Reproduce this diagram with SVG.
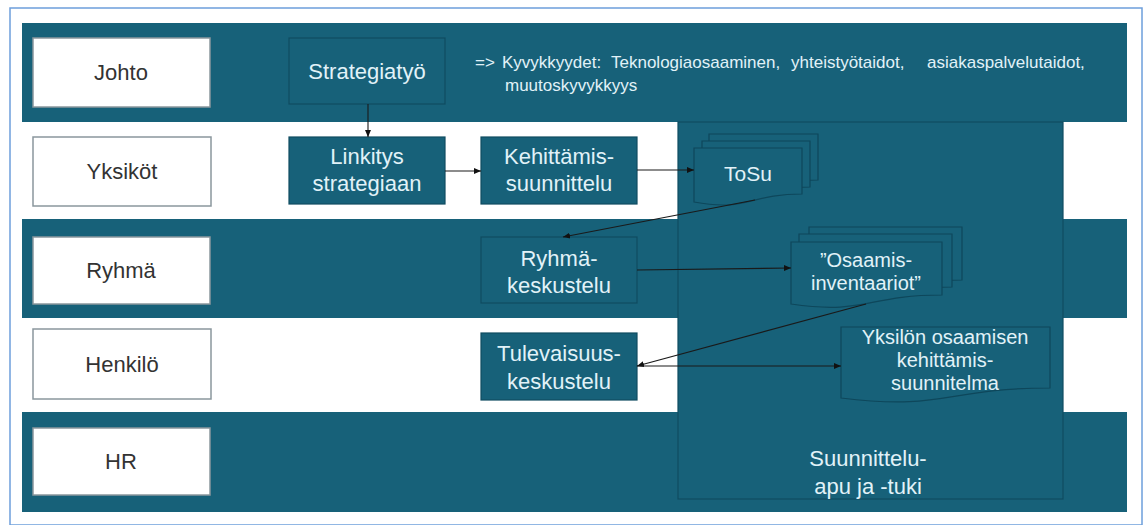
<svg xmlns="http://www.w3.org/2000/svg" width="1144" height="525" viewBox="0 0 1144 525">
  <defs>
    <marker id="arrow" markerUnits="userSpaceOnUse" markerWidth="8" markerHeight="8" refX="7" refY="4" orient="auto">
      <path d="M0,1 L7,4 L0,7 Z" fill="#111"/>
    </marker>
    <style>
      .band { fill: #176179; }
      .label { fill: #ffffff; stroke: #8a979d; stroke-width: 1.5; }
      .labeltxt { font-family: "Liberation Sans", Arial, sans-serif; font-size: 22px; fill: #333333; text-anchor: middle; }
      .box { fill: #176179; stroke: #0f4c61; stroke-width: 1.2; }
      .boxtxt { font-family: "Liberation Sans", Arial, sans-serif; font-size: 22px; fill: #e1f2f8; text-anchor: middle; }
      .doctxt { font-family: "Liberation Sans", Arial, sans-serif; font-size: 20px; fill: #e1f2f8; text-anchor: middle; }
      .doc { fill: #176179; stroke: #0e475b; stroke-width: 1.2; }
      .note { font-family: "Liberation Sans", Arial, sans-serif; font-size: 17px; fill: #e1f2f8; }
      .conn { fill: none; stroke: #1a1a1a; stroke-width: 1.1; marker-end: url(#arrow); }
    </style>
  </defs>

  <!-- frame -->
  <rect x="0" y="0" width="1144" height="525" fill="#ffffff"/>
  <rect x="10" y="8" width="1132" height="517" fill="#ffffff" stroke="#6d9fdb" stroke-width="1.5"/>

  <!-- swimlane bands -->
  <g id="bands">
    <rect class="band" x="22" y="23" width="1105" height="99"/>
    <rect class="band" x="22" y="219" width="1105" height="99"/>
    <rect class="band" x="22" y="412" width="1105" height="100"/>
  </g>

  <!-- planning support panel -->
  <g id="panel">
    <rect x="678" y="122" width="385" height="377" fill="#176179" stroke="#0f4c61" stroke-width="1.2"/>
    <text class="boxtxt" x="868" y="466">Suunnittelu-</text>
    <text class="boxtxt" x="868" y="494">apu ja -tuki</text>
  </g>

  <!-- lane labels -->
  <g id="lane-johto">
    <rect class="label" x="33" y="38" width="177" height="69"/>
    <text class="labeltxt" x="121" y="80">Johto</text>
  </g>
  <g id="lane-yksikot">
    <rect class="label" x="33" y="137" width="178" height="69"/>
    <text class="labeltxt" x="122" y="179">Yksiköt</text>
  </g>
  <g id="lane-ryhma">
    <rect class="label" x="33" y="237" width="177" height="67"/>
    <text class="labeltxt" x="121" y="278">Ryhmä</text>
  </g>
  <g id="lane-henkilo">
    <rect class="label" x="33" y="329" width="178" height="70"/>
    <text class="labeltxt" x="122" y="372">Henkilö</text>
  </g>
  <g id="lane-hr">
    <rect class="label" x="33" y="428" width="177" height="67"/>
    <text class="labeltxt" x="121" y="469">HR</text>
  </g>

  <!-- process steps -->
  <g id="strategiatyo">
    <rect class="box" x="289" y="38" width="156" height="66" fill="none"/>
    <text class="boxtxt" x="367" y="79">Strategiatyö</text>
  </g>
  <g id="kyvykkyydet">
    <text class="note" y="68"><tspan x="475">=&gt;</tspan><tspan x="502">Kyvykkyydet:</tspan><tspan x="611">Teknologiaosaaminen,</tspan><tspan x="791">yhteistyötaidot,</tspan><tspan x="927">asiakaspalvelutaidot,</tspan></text>
    <text class="note" x="505" y="91">muutoskyvykkyys</text>
  </g>
  <g id="linkitys">
    <rect class="box" x="289" y="137" width="156" height="67"/>
    <text class="boxtxt" x="367" y="164">Linkitys</text>
    <text class="boxtxt" x="367" y="191">strategiaan</text>
  </g>
  <g id="kehittamissuunnittelu">
    <rect class="box" x="481" y="137" width="156" height="67"/>
    <text class="boxtxt" x="559" y="164">Kehittämis-</text>
    <text class="boxtxt" x="559" y="191">suunnittelu</text>
  </g>
  <g id="ryhmakeskustelu">
    <rect class="box" x="481" y="237" width="156" height="66"/>
    <text class="boxtxt" x="559" y="266">Ryhmä-</text>
    <text class="boxtxt" x="559" y="293">keskustelu</text>
  </g>
  <g id="tulevaisuuskeskustelu">
    <rect class="box" x="481" y="333" width="156" height="67"/>
    <text class="boxtxt" x="559" y="361">Tulevaisuus-</text>
    <text class="boxtxt" x="559" y="389">keskustelu</text>
  </g>

  <!-- documents -->
  <g id="tosu">
    <path class="doc" d="M709,134 H818 V180 C763,180 763,198 709,188 Z"/>
    <path class="doc" d="M702,141 H810 V187 C756,187 756,205 702,195 Z"/>
    <path class="doc" d="M694,148 H802 V194 C748,194 748,212 694,202 Z"/>
    <text class="doctxt" x="748" y="181" style="font-size:21px">ToSu</text>
  </g>
  <g id="osaamisinventaariot">
    <path class="doc" d="M809,227 H962 V280 C885,280 885,300 809,289 Z"/>
    <path class="doc" d="M799,234 H952 V287 C875,287 875,307 799,296 Z"/>
    <path class="doc" d="M791,242 H942 V295 C866,295 866,315 791,304 Z"/>
    <text class="doctxt" x="866" y="267">”Osaamis-</text>
    <text class="doctxt" x="866" y="290">inventaariot”</text>
  </g>
  <g id="kehittamissuunnitelma">
    <path class="doc" d="M841,327 H1050 V388 C945,388 945,411 841,398 Z"/>
    <text class="doctxt" x="945" y="344">Yksilön osaamisen</text>
    <text class="doctxt" x="945" y="367">kehittämis-</text>
    <text class="doctxt" x="945" y="390">suunnitelma</text>
  </g>

  <!-- connectors -->
  <g id="connectors">
    <path class="conn" d="M368,104 L368,137"/>
    <path class="conn" d="M445,171 L481,171"/>
    <path class="conn" d="M637,170 L694,170"/>
    <path class="conn" d="M755,200 L563,237"/>
    <path class="conn" d="M637,270 L791,268"/>
    <path class="conn" d="M866,304 L637,366"/>
    <path class="conn" d="M637,366 L841,366"/>
  </g>
</svg>
